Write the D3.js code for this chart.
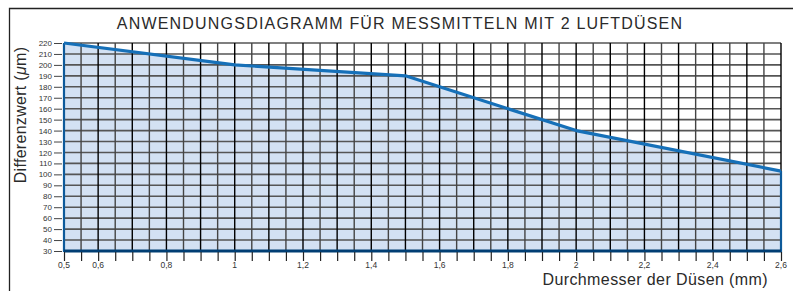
<!DOCTYPE html>
<html>
<head>
<meta charset="utf-8">
<script src="https://cdn.jsdelivr.net/npm/d3@7"></script>
<style>
  body { margin: 0; background: #fff; }
  svg { display: block; font-family: "Liberation Sans", Arial, sans-serif; }
</style>
</head>
<body>
<svg width="793" height="291"></svg>
<script>
// data
var diameters = [0.5, 1.0, 1.5, 2.0, 2.6];
var diffValues = [220, 200, 190, 140, 103];
var xTickLabels = [0.5, 0.6, 0.8, 1, 1.2, 1.4, 1.6, 1.8, 2, 2.2, 2.4, 2.6];
var yTickValues = d3.range(30, 221, 10);
var xGridValues = d3.range(0, 43).map(function(i) { return +(0.5 + i * 0.05).toFixed(2); });

var svg = d3.select("svg"),
    margin = {top: 43, right: 12, bottom: 40, left: 64},
    width = 781 - margin.left,
    height = 251 - margin.top;

// frame
svg.append("path")
    .attr("d", "M9.5,295V8.5H793")
    .attr("fill", "none")
    .attr("stroke", "#222")
    .attr("stroke-width", 1.3);

svg.append("text")
    .attr("x", 400)
    .attr("y", 29)
    .attr("text-anchor", "middle")
    .attr("font-size", 16)
    .attr("letter-spacing", 1.2)
    .attr("fill", "#2a2a2a")
    .text("ANWENDUNGSDIAGRAMM FÜR MESSMITTELN MIT 2 LUFTDÜSEN");

var g = svg.append("g").attr("transform", "translate(" + margin.left + "," + margin.top + ")");

var x = d3.scaleLinear().domain([0.5, 2.6]).range([0, width]);
var y = d3.scaleLinear().domain([30, 220]).range([height, 0]);

// filled area under the curve
var area = d3.area()
    .x(function(d, i) { return x(diameters[i]); })
    .y0(y(30))
    .y1(function(d) { return y(d); });

g.append("path")
    .datum(diffValues)
    .attr("fill", "#d3e1f3")
    .attr("d", area);

// grid
g.append("g")
    .selectAll("line")
    .data(yTickValues)
    .enter().append("line")
    .attr("x1", 0).attr("x2", width)
    .attr("y1", function(d) { return y(d); })
    .attr("y2", function(d) { return y(d); })
    .attr("stroke", "#555")
    .attr("stroke-width", 1.6);

g.append("g")
    .selectAll("line")
    .data(xGridValues)
    .enter().append("line")
    .attr("x1", function(d) { return x(d); })
    .attr("x2", function(d) { return x(d); })
    .attr("y1", 0).attr("y2", height)
    .attr("stroke", function(d, i) { return i % 2 ? "#444" : "#000"; })
    .attr("stroke-width", 1.4);

// blue boundary of the area
g.append("path")
    .attr("d", "M" + x(0.5) + "," + y(220) + "V" + y(30) + "H" + x(2.6) + "V" + y(103))
    .attr("fill", "none")
    .attr("stroke", "#0d5a9a")
    .attr("stroke-width", 2.2);

g.append("line")
    .attr("x1", 0).attr("x2", width)
    .attr("y1", y(30)).attr("y2", y(30))
    .attr("stroke", "#003e73")
    .attr("stroke-width", 3);

var line = d3.line()
    .x(function(d, i) { return x(diameters[i]); })
    .y(function(d) { return y(d); });

g.append("path")
    .datum(diffValues)
    .attr("fill", "none")
    .attr("stroke", "#1670b8")
    .attr("stroke-width", 3.2)
    .attr("stroke-linejoin", "round")
    .attr("d", line);

// axes
var yAxis = g.append("g")
    .attr("transform", "translate(-2,0)")
    .call(d3.axisLeft(y).tickValues(yTickValues).tickSize(8).tickPadding(2));
yAxis.select(".domain").remove();
yAxis.selectAll("line").attr("stroke", "#444");
yAxis.selectAll("text").attr("font-size", 8).attr("fill", "#333")
    .attr("font-family", "Liberation Sans, Arial, sans-serif");

var xAxis = g.append("g")
    .attr("transform", "translate(0," + (height + 1) + ")")
    .call(d3.axisBottom(x).tickValues(xGridValues).tickSize(9).tickFormat(""));
xAxis.select(".domain").remove();
xAxis.selectAll("line").attr("stroke", "#222").attr("stroke-width", 1.2);

g.append("g")
    .selectAll("text")
    .data(xTickLabels)
    .enter().append("text")
    .attr("x", function(d) { return x(d); })
    .attr("y", height + 17)
    .attr("text-anchor", "middle")
    .attr("font-size", 8.5)
    .attr("fill", "#333")
    .text(function(d) { return String(d).replace(".", ","); });

svg.append("text")
    .attr("transform", "translate(26,115) rotate(-90)")
    .attr("text-anchor", "middle")
    .attr("font-size", 16)
    .attr("letter-spacing", 0.3)
    .attr("fill", "#2a2a2a")
    .html("Differenzwert (<tspan font-style='italic'>μ</tspan>m)");

svg.append("text")
    .attr("x", 768)
    .attr("y", 285)
    .attr("text-anchor", "end")
    .attr("font-size", 16)
    .attr("letter-spacing", 0.4)
    .attr("fill", "#2a2a2a")
    .text("Durchmesser der Düsen (mm)");
</script>
</body>
</html>
